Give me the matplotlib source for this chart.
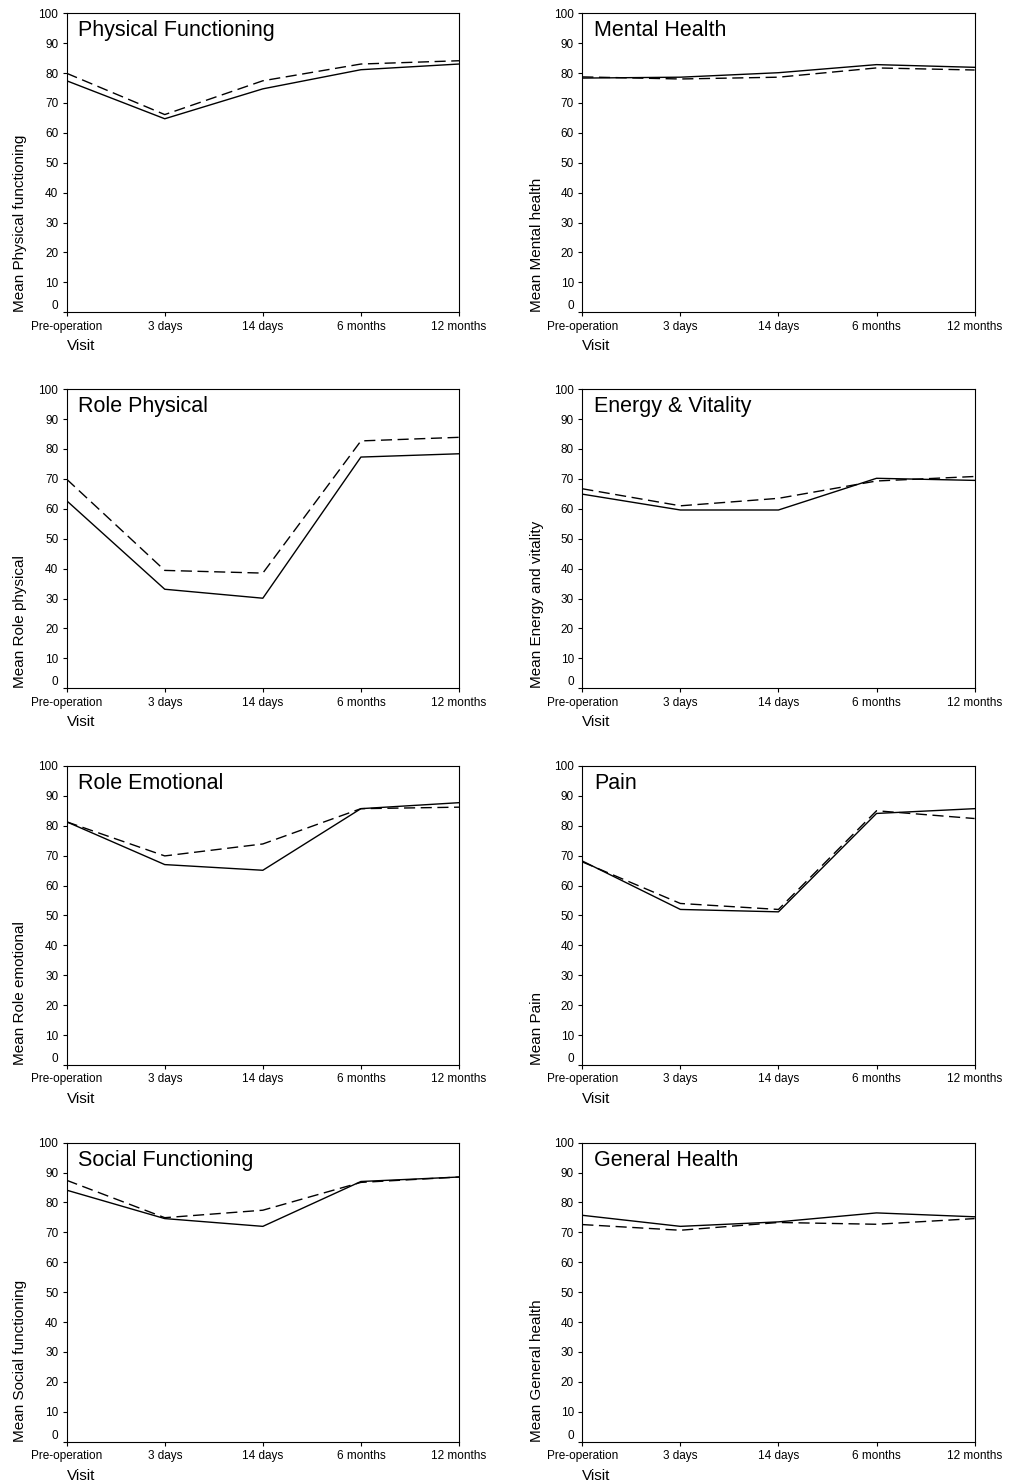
import numpy as np
import matplotlib
matplotlib.use("Agg")
import matplotlib.pyplot as plt

plt.rcParams['font.family'] = ['Liberation Sans', 'DejaVu Sans']

visits = ["Pre-operation", "3 days", "14 days", "6 months", "12 months"]

titles = ["Physical Functioning", "Mental Health",
          "Role Physical", "Energy & Vitality",
          "Role Emotional", "Pain",
          "Social Functioning", "General Health"]
ylabels = ["Mean Physical functioning", "Mean Mental health",
           "Mean Role physical", "Mean Energy and vitality",
           "Mean Role emotional", "Mean Pain",
           "Mean Social functioning", "Mean General health"]

# solid line / dashed line
phys_solid = [77.4, 64.7, 74.7, 81.1, 83.0]
phys_dash = [79.9, 66.1, 77.4, 83.0, 84.1]
mental_solid = [78.3, 78.6, 80.1, 82.8, 81.9]
mental_dash = [78.7, 78.0, 78.6, 81.7, 81.0]
rolephys_solid = [62.7, 33.1, 30.1, 77.3, 78.4]
rolephys_dash = [69.9, 39.4, 38.5, 82.7, 83.9]
energy_solid = [64.9, 59.6, 59.6, 70.2, 69.5]
energy_dash = [66.7, 61.0, 63.5, 69.3, 70.8]
roleemo_solid = [81.3, 67.0, 65.1, 85.7, 87.7]
roleemo_dash = [81.3, 69.9, 73.9, 85.7, 86.2]
pain_solid = [68.2, 52.0, 51.2, 84.1, 85.7]
pain_dash = [67.9, 54.0, 52.0, 85.0, 82.4]
social_solid = [84.1, 74.6, 72.0, 87.0, 88.5]
social_dash = [87.4, 74.9, 77.4, 86.7, 88.5]
general_solid = [75.7, 72.0, 73.5, 76.5, 75.2]
general_dash = [72.6, 70.7, 73.3, 72.7, 74.6]

solids = [phys_solid, mental_solid, rolephys_solid, energy_solid,
          roleemo_solid, pain_solid, social_solid, general_solid]
dashes = [phys_dash, mental_dash, rolephys_dash, energy_dash,
          roleemo_dash, pain_dash, social_dash, general_dash]

fig = plt.figure(figsize=(10.15, 14.82), dpi=100)

lefts = [0.0657, 0.5737]
bottoms = [0.7893, 0.5356, 0.2814, 0.0272]
w, h = 0.3865, 0.2018
ylab_x = [-0.102, -0.098]

x = np.arange(len(visits))
for i in range(8):
    r, c = divmod(i, 2)
    ax = fig.add_axes([lefts[c], bottoms[r], w, h])
    ax.plot(x, solids[i], color="black", lw=1.0)
    ax.plot(x, dashes[i], color="black", lw=1.0, dashes=(8, 4))
    ax.set_xlim(0, 4)
    ax.set_ylim(0, 100)
    ax.set_xticks(x)
    ax.set_xticklabels(visits, fontsize=8.5)
    ax.set_yticks(np.arange(0, 101, 10))
    ax.tick_params(axis="both", direction="out", length=3, width=0.8,
                   labelsize=8.5, pad=3)
    ax.get_yticklabels()[0].set_verticalalignment("bottom")
    for s in ax.spines.values():
        s.set_linewidth(0.8)
    ax.annotate(titles[i], xy=(0, 1), xycoords="axes fraction",
                xytext=(8.5, -16.5), textcoords="offset points",
                fontsize=15.5, ha="left", va="baseline")
    ax.set_ylabel(ylabels[i], fontsize=11, loc="bottom")
    ax.yaxis.set_label_coords(ylab_x[c], 0)
    ax.set_xlabel("Visit", fontsize=11, loc="left")
    ax.xaxis.set_label_coords(0, -0.09)

fig.savefig("out.png", dpi=100)
